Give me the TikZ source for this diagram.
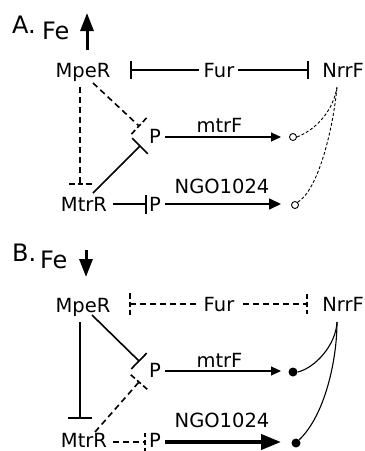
\documentclass[tikz,border=0pt]{standalone}
\usepackage{fontspec}
\setmainfont{DejaVu Sans}
\usetikzlibrary{arrows.meta,calc}
\newcommand\mybar[4][ln]{\draw[#1] ($(#2)!#4!90:(#3)$) -- ($(#2)!#4!-90:(#3)$);}
\newcommand\mydbar[4][bdash]{\draw[#1] (#2) -- ($(#2)!#4!90:(#3)$); \draw[#1] (#2) -- ($(#2)!#4!-90:(#3)$);}
\begin{document}
\begin{tikzpicture}[x=1pt,y=-1pt,
  lbl/.style={font=\fontsize{19.5}{19.5}\selectfont, inner sep=0pt, anchor=base},
  big/.style={font=\fontsize{24}{24}\selectfont, inner sep=0pt, anchor=base west},
  ln/.style={line width=1.6pt},
  dsh/.style={line width=1.6pt, dash pattern=on 6pt off 4pt},
  bdash/.style={line width=1.6pt, dash pattern=on 2.5pt off 3pt on 6pt off 10pt},
  fdsh/.style={line width=0.9pt, dash pattern=on 3pt off 2pt},
  tarr/.style={line width=1.1pt, -{Triangle[length=10pt,width=9pt]}},
  marr/.style={line width=1.7pt, -{Triangle[length=12pt,width=11pt]}},
  karr/.style={line width=4pt, -{Triangle[length=20pt,width=15pt]}},
  fearr/.style={line width=3pt, -{Triangle[length=18pt,width=13pt]}},
  opn/.style={circle, draw, line width=0.9pt, minimum size=7pt, inner sep=0pt},
  dot/.style={circle, fill, minimum size=9pt, inner sep=0pt},
  crv/.style={line width=1.1pt}
]
\useasboundingbox (0,0) rectangle (365,451);

% ---------------- Panel A ----------------
\node[big] (labA) at (12,33) {A.};
\node[big] (feA) at (42,39) {Fe};
\coordinate (feAt) at (87,50);
\coordinate (feAh) at (87,13);
\draw[fearr] (feAt) -- (feAh);

\node[lbl] (mpeA) at (83,77) {MpeR};
\node[lbl] (furA) at (219,77) {Fur};
\node[lbl] (nrrA) at (343,77) {NrrF};
\node[lbl] (p1A) at (155,143) {P};
\node[lbl] (mtrfA) at (219.5,132) {mtrF};
\node[lbl] (mtrrA) at (84,211) {MtrR};
\node[lbl] (p2A) at (155,211) {P};
\node[lbl] (ngoA) at (222,193) {NGO1024};
\node[opn] (c1A) at (293,137) {};
\node[opn] (c2A) at (295,205) {};

% Fur inhibitions
\coordinate (fAl) at (131,70); \coordinate (fAl2) at (199,70);
\draw[ln] (fAl2) -- (fAl); \mybar{fAl}{fAl2}{9pt}
\coordinate (fAr) at (308,70); \coordinate (fAr2) at (238,70);
\draw[ln] (fAr2) -- (fAr); \mybar{fAr}{fAr2}{9pt}

% MpeR -| MtrR (dashed)
\coordinate (vA1) at (80,87); \coordinate (vA2) at (80,184);
\draw[dsh] (vA1) -- (vA2); \mydbar{vA2}{vA1}{12pt}
% MpeR -| P1 (dashed)
\coordinate (dA1) at (93,83); \coordinate (dA2) at (139,126);
\draw[dsh] (dA1) -- (dA2); \mydbar{dA2}{dA1}{11pt}
% MtrR -| P1 (solid)
\coordinate (sA1) at (93,193); \coordinate (sA2) at (140,146);
\draw[ln] (sA1) -- (sA2); \mybar{sA2}{sA1}{11pt}
% MtrR -| P2
\coordinate (mA1) at (113,204); \coordinate (mA2) at (146,204);
\draw[ln] (mA1) -- (mA2); \mybar{mA2}{mA1}{9.5pt}

% transcription arrows
\coordinate (t1A) at (165,137); \coordinate (t1Ae) at (281,137);
\draw[tarr] (t1A) -- (t1Ae);
\coordinate (t2A) at (165,204); \coordinate (t2Ae) at (281,204);
\draw[marr] (t2A) -- (t2Ae);

% NrrF curves (dashed)
\coordinate (nA) at (337,87);
\draw[fdsh] (c1A.east) .. controls (315,130) and (333,112) .. (nA);
\draw[fdsh] (c2A.north east) .. controls (318,190) and (333,130) .. (nA);

% ---------------- Panel B ----------------
\node[big] (labB) at (12,261) {B.};
\node[big] (feB) at (40,268) {Fe};
\coordinate (feBt) at (86,250);
\coordinate (feBh) at (86,277);
\draw[fearr] (feBt) -- (feBh);

\node[lbl] (mpeB) at (83,312) {MpeR};
\node[lbl] (furB) at (219,311) {Fur};
\node[lbl] (nrrB) at (343,311) {NrrF};
\node[lbl] (p1B) at (155,377) {P};
\node[lbl] (mtrfB) at (219.5,367) {mtrF};
\node[lbl] (mtrrB) at (84,447) {MtrR};
\node[lbl] (p2B) at (155,447) {P};
\node[lbl] (ngoB) at (222,427) {NGO1024};
\node[dot] (c1B) at (293,372) {};
\node[dot] (c2B) at (296,443) {};

% Fur inhibitions (dashed)
\coordinate (fBl) at (130,304); \coordinate (fBl2) at (199,304);
\draw[dsh] (fBl) -- (fBl2); \mydbar{fBl}{fBl2}{11pt}
\coordinate (fBr) at (307,304); \coordinate (fBr2) at (243,304);
\draw[dsh] (fBr2) -- (fBr); \mydbar{fBr}{fBr2}{10pt}

% MpeR -| MtrR (solid)
\coordinate (vB1) at (80,322); \coordinate (vB2) at (80,418);
\draw[ln] (vB1) -- (vB2); \mybar{vB2}{vB1}{12pt}
% MpeR -| P1 (solid)
\coordinate (dB1) at (92,315); \coordinate (dB2) at (139,361);
\draw[ln] (dB1) -- (dB2); \mybar{dB2}{dB1}{11pt}
% MtrR -| P1 (dashed)
\coordinate (sB1) at (95,432); \coordinate (sB2) at (139,382);
\draw[dsh] (sB1) -- (sB2); \mydbar{sB2}{sB1}{11pt}
% MtrR -| P2 (dashed)
\coordinate (mB1) at (113,442); \coordinate (mB2) at (145,442);
\draw[dsh] (mB1) -- (mB2); \mydbar{mB2}{mB1}{9pt}

% transcription arrows
\coordinate (t1B) at (165,371); \coordinate (t1Be) at (281,371);
\draw[tarr] (t1B) -- (t1Be);
\coordinate (t2B) at (165,442); \coordinate (t2Be) at (281,442);
\draw[karr] (t2B) -- (t2Be);

% NrrF curves (solid)
\coordinate (nB) at (337,322);
\draw[crv] (c1B.east) .. controls (315,368) and (336,345) .. (nB);
\draw[crv] (c2B.north east) .. controls (325,415) and (337,360) .. (nB);
\end{tikzpicture}
\end{document}
